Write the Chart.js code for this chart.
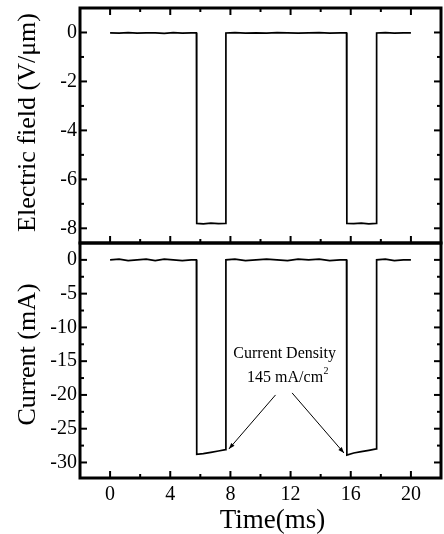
<!DOCTYPE html>
<html><head><meta charset="utf-8">
<script src="https://cdn.jsdelivr.net/npm/chart.js@4"></script>
<style>
html,body{margin:0;padding:0;background:#fff;}
#wrap{position:relative;width:444px;height:534px;overflow:hidden;background:#fff;}
canvas{position:absolute;left:0;}
</style></head><body>
<div id="wrap">
<canvas id="topChart" width="444" height="260" style="top:0;width:444px;height:260px"></canvas>
<canvas id="botChart" width="444" height="304" style="top:230px;width:444px;height:304px"></canvas>
</div>
<script>
// ---- data ----
const timeMs = [0, 0.6, 1.2, 1.8, 2.4, 3.0, 3.6, 4.2, 4.8, 5.4,
  5.74, 5.76, 6.2, 6.7, 7.2, 7.68, 7.70,
  8.3, 9.0, 9.7, 10.4, 11.1, 11.8, 12.5, 13.2, 13.9, 14.6, 15.3,
  15.72, 15.74, 16.2, 16.7, 17.2, 17.70, 17.72,
  18.3, 18.9, 19.5, 20.0];
const fieldVum = [-0.02, -0.03, -0.01, -0.03, -0.02, -0.02, -0.04, -0.01, -0.03, -0.02,
  -0.02, -7.80, -7.82, -7.79, -7.81, -7.80, -0.02,
  -0.01, -0.03, -0.02, -0.03, -0.01, -0.02, -0.03, -0.02, -0.01, -0.03, -0.02,
  -0.02, -7.80, -7.81, -7.79, -7.82, -7.80, -0.02,
  -0.01, -0.03, -0.02, -0.02];
const currentMA = [0.0, 0.1, -0.1, 0.0, 0.1, -0.1, 0.1, 0.0, -0.1, 0.0,
  0.0, -28.8, -28.7, -28.5, -28.3, -28.1, 0.0,
  0.1, -0.1, 0.0, 0.1, 0.0, -0.1, 0.1, 0.0, 0.1, -0.1, 0.0,
  0.0, -28.9, -28.6, -28.4, -28.2, -28.0, 0.0,
  0.1, -0.1, 0.0, 0.0];
const timeTicks = [0, 4, 8, 12, 16, 20];
const timeMinor = [2, 6, 10, 14, 18];
const fieldTicks = [0, -2, -4, -6, -8];
const fieldMinor = [-1, -3, -5, -7];
const currentTicks = [0, -5, -10, -15, -20, -25, -30];
const currentMinor = [-2.5, -7.5, -12.5, -17.5, -22.5, -27.5];
const arrowFrom = [[11.0, -20.0], [12.1, -19.7]];
const arrowTo = [[7.9, -28.0], [15.55, -28.6]];
const noteLines = ['Current Density', '145 mA/cm'];
const noteSup = '2';
const noteAt = [[11.6, -13.9], [11.8, -17.5]];
const xTitle = 'Time(ms)';
const fieldTitle = 'Electric field (V/\u03bcm)';
const currentTitle = 'Current (mA)';

const SERIF = "'Liberation Serif', 'Times New Roman', serif";

const framePlugin = {
  id: 'frame',
  afterDraw(chart, args, o) {
    const {ctx, chartArea: a, scales} = chart;
    const xs = scales.x, ys = scales.y;
    ctx.save();
    ctx.strokeStyle = '#000';
    ctx.lineWidth = 2;
    const line = (x1, y1, x2, y2) => { ctx.beginPath(); ctx.moveTo(x1, y1); ctx.lineTo(x2, y2); ctx.stroke(); };
    const yT = (vals, len) => vals.forEach(v => { const p = ys.getPixelForValue(v); line(a.left, p, a.left + len, p); line(a.right, p, a.right - len, p); });
    yT(o.yMajor, 7); yT(o.yMinor, 4);
    const xT = (vals, len) => vals.forEach(v => {
      const p = xs.getPixelForValue(v);
      if (o.xSides.includes('bottom')) line(p, a.bottom, p, a.bottom - len);
      if (o.xSides.includes('top')) line(p, a.top, p, a.top + len);
    });
    xT(timeTicks, 7); xT(timeMinor, 4);
    ctx.lineWidth = 3;
    ctx.strokeRect(a.left, a.top, a.right - a.left, a.bottom - a.top);
    // y-axis title, rotated
    ctx.fillStyle = '#000';
    ctx.font = '26px ' + SERIF;
    ctx.textAlign = 'center';
    ctx.textBaseline = 'alphabetic';
    ctx.translate(35, (a.top + a.bottom) / 2 + o.titleShift);
    ctx.rotate(-Math.PI / 2);
    ctx.fillText(o.title, 0, 0);
    ctx.restore();
  }
};

const notePlugin = {
  id: 'notes',
  afterDatasetsDraw(chart) {
    const {ctx, chartArea: a, scales: {x, y}} = chart;
    ctx.save();
    ctx.fillStyle = '#000';
    arrowTo.forEach((t, i) => {
      const f = arrowFrom[i];
      const x1 = x.getPixelForValue(f[0]), y1 = y.getPixelForValue(f[1]);
      const x2 = x.getPixelForValue(t[0]), y2 = y.getPixelForValue(t[1]);
      const ang = Math.atan2(y2 - y1, x2 - x1);
      const L = 6, W = 2.2;
      ctx.beginPath();
      ctx.moveTo(x2, y2);
      ctx.lineTo(x2 - L * Math.cos(ang) + W * Math.sin(ang), y2 - L * Math.sin(ang) - W * Math.cos(ang));
      ctx.lineTo(x2 - L * Math.cos(ang) - W * Math.sin(ang), y2 - L * Math.sin(ang) + W * Math.cos(ang));
      ctx.closePath();
      ctx.fill();
    });
    ctx.textBaseline = 'middle';
    ctx.font = '16px ' + SERIF;
    ctx.textAlign = 'center';
    ctx.fillText(noteLines[0], x.getPixelForValue(noteAt[0][0]), y.getPixelForValue(noteAt[0][1]));
    const w1 = ctx.measureText(noteLines[1]).width;
    ctx.font = '10px ' + SERIF;
    const w2 = ctx.measureText(noteSup).width;
    const cx = x.getPixelForValue(noteAt[1][0]), cy = y.getPixelForValue(noteAt[1][1]);
    const x0 = cx - (w1 + w2) / 2;
    ctx.textAlign = 'left';
    ctx.font = '16px ' + SERIF;
    ctx.fillText(noteLines[1], x0, cy);
    ctx.font = '10px ' + SERIF;
    ctx.fillText(noteSup, x0 + w1 + 0.5, cy - 7);
    ctx.font = '27px ' + SERIF;
    ctx.textAlign = 'center';
    ctx.textBaseline = 'alphabetic';
    ctx.fillText(xTitle, (a.left + a.right) / 2 + 12, chart.height - 6.5);
    ctx.restore();
  }
};

const tickFont = {family: SERIF, size: 20};

function yAxis(min, max, ticks) {
  return {
    type: 'linear', position: 'left', min: min, max: max,
    afterBuildTicks: s => { s.ticks = ticks.map(v => ({value: v})); },
    afterFit: s => { s.width = 80; s.paddingTop = 0; s.paddingBottom = 0; },
    grid: {display: false, drawTicks: false},
    border: {display: false},
    ticks: {font: tickFont, color: '#000', padding: 3},
    title: {display: false}
  };
}

const pts = arr => timeMs.map((t, i) => ({x: t, y: arr[i]}));

new Chart(document.getElementById('topChart'), {
  type: 'line',
  data: {datasets: [{data: pts(fieldVum), borderColor: '#000', borderWidth: 1.7, pointRadius: 0, tension: 0}]},
  options: {
    responsive: false, animation: false, devicePixelRatio: 1,
    layout: {padding: {top: 8, right: 3, bottom: 17, left: 0}},
    plugins: {legend: {display: false}, tooltip: {enabled: false},
      frame: {yMajor: fieldTicks, yMinor: fieldMinor, xSides: ['top', 'bottom'], title: fieldTitle, titleShift: -3}},
    scales: {
      x: {type: 'linear', min: -2, max: 22, display: false},
      y: yAxis(-8.6, 1, fieldTicks)
    }
  },
  plugins: [framePlugin]
});

new Chart(document.getElementById('botChart'), {
  type: 'line',
  data: {datasets: [
    {data: pts(currentMA), borderColor: '#000', borderWidth: 1.7, pointRadius: 0, tension: 0},
    {data: [{x: arrowFrom[0][0], y: arrowFrom[0][1]}, {x: arrowTo[0][0], y: arrowTo[0][1]}], borderColor: '#000', borderWidth: 1, pointRadius: 0},
    {data: [{x: arrowFrom[1][0], y: arrowFrom[1][1]}, {x: arrowTo[1][0], y: arrowTo[1][1]}], borderColor: '#000', borderWidth: 1, pointRadius: 0}
  ]},
  options: {
    responsive: false, animation: false, devicePixelRatio: 1,
    layout: {padding: {top: 13, right: 3, bottom: 0, left: 0}},
    plugins: {legend: {display: false}, tooltip: {enabled: false},
      frame: {yMajor: currentTicks, yMinor: currentMinor, xSides: ['bottom'], title: currentTitle, titleShift: -6}},
    scales: {
      x: {type: 'linear', position: 'bottom', min: -2, max: 22,
        afterBuildTicks: s => { s.ticks = timeTicks.map(v => ({value: v})); },
        afterFit: s => { s.height = 56; s.paddingLeft = 0; s.paddingRight = 0; },
        grid: {display: false, drawTicks: false},
        border: {display: false},
        ticks: {font: tickFont, color: '#000', padding: 5, maxRotation: 0},
        title: {display: false}
      },
      y: yAxis(-32.3, 2.5, currentTicks)
    }
  },
  plugins: [framePlugin, notePlugin]
});
</script>
</body></html>
